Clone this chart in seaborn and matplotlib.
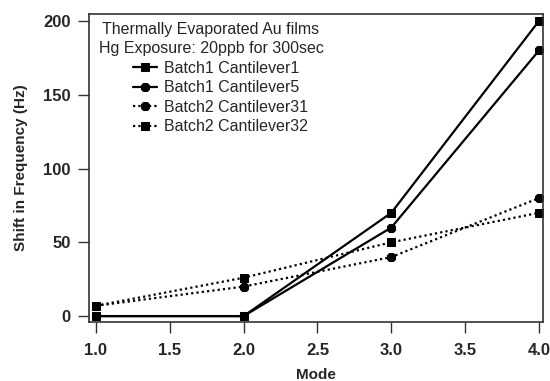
import matplotlib
matplotlib.use("Agg")
import matplotlib.pyplot as plt
import seaborn as sns
import pandas as pd

modes = [1.0, 2.0, 3.0, 4.0]
series_names = ["Batch1 Cantilever1", "Batch1 Cantilever5", "Batch2 Cantilever31", "Batch2 Cantilever32"]
b1c1 = [0, 0, 70, 200]
b1c5 = [0, 0, 60, 180]
b2c31 = [7, 20, 40, 80]
b2c32 = [7, 26, 50, 70]
values = [b1c1, b1c5, b2c31, b2c32]
x_ticks = [1.0, 1.5, 2.0, 2.5, 3.0, 3.5, 4.0]
x_ticklabels = ["1.0", "1.5", "2.0", "2.5", "3.0", "3.5", "4.0"]
y_ticks = [0, 50, 100, 150, 200]
legend_title = "Thermally Evaporated Au films\nHg Exposure: 20ppb for 300sec"

dotted = (0, (1, 1.4))
styles = {
    "Batch1 Cantilever1": dict(ls="-", marker="s", ms=6.3),
    "Batch1 Cantilever5": dict(ls="-", marker="8", ms=5.8),
    "Batch2 Cantilever31": dict(ls=dotted, marker="8", ms=5.8),
    "Batch2 Cantilever32": dict(ls=dotted, marker="s", ms=6.3),
}

sns.set_style("white")
plt.rcParams['font.family'] = ['Liberation Sans', 'DejaVu Sans']

W, H = 550, 381
fig = plt.figure(figsize=(5.5, 3.81), dpi=100)
ax = fig.add_axes([89/W, 1 - 322/H, (543-89)/W, (322-14)/H])

for name, vals in zip(series_names, values):
    df = pd.DataFrame({"Mode": modes, "Shift": vals})
    st = styles[name]
    sns.lineplot(data=df, x="Mode", y="Shift", ax=ax, color="black",
                 linestyle=st["ls"], marker=st["marker"], markersize=st["ms"],
                 markeredgecolor="black", markerfacecolor="black",
                 linewidth=1.6, label=name)

ax.set_xlim(0.953, 4.027)
ax.set_ylim(-4, 204.7)
ax.set_xticks(x_ticks)
ax.set_xticklabels(x_ticklabels)
ax.set_yticks(y_ticks)
ax.tick_params(axis="both", direction="out", length=8, width=1, color="#333333",
               labelsize=12, bottom=True, left=True)
ax.tick_params(axis="x", pad=7)
ax.tick_params(axis="y", pad=5)
for lab in ax.get_xticklabels() + ax.get_yticklabels():
    lab.set_fontweight("bold")
for sp in ax.spines.values():
    sp.set_color("#333333")
    sp.set_linewidth(1.2)
ax.set_xlabel("Mode", fontsize=11, fontweight="bold", labelpad=7)
ax.set_ylabel("Shift in Frequency (Hz)", fontsize=11, fontweight="bold", labelpad=11)

# legend title as centered two-line text
fig.text(211/W, 1 - 22/H, legend_title, ha="center", va="top", fontsize=11.5,
         linespacing=1.35, multialignment="center")

leg = ax.legend(loc="upper left", bbox_to_anchor=(133/W, 1 - 61/H),
                bbox_transform=fig.transFigure, frameon=False, fontsize=11.5,
                handlelength=1.5, handletextpad=0.45, labelspacing=0.28,
                borderaxespad=0, borderpad=0)

fig.savefig("out.png", dpi=100)
